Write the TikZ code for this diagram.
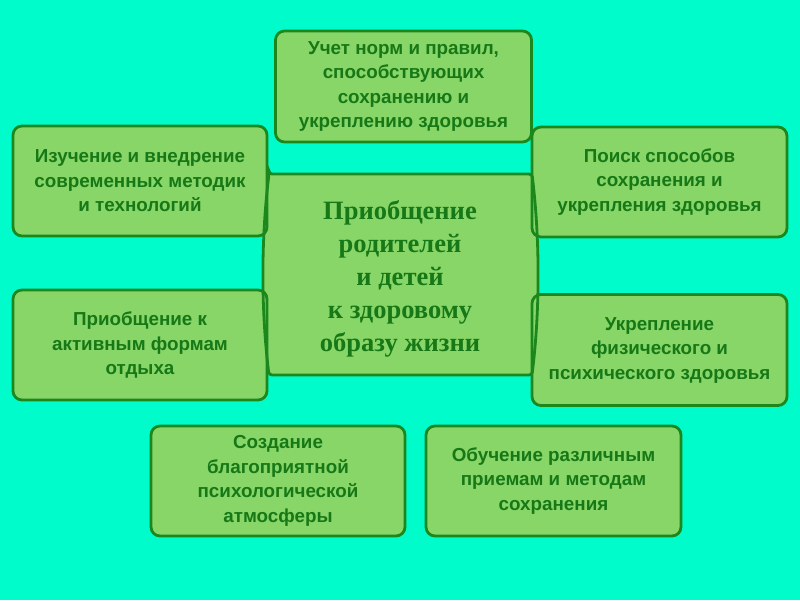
\documentclass[tikz,border=0pt]{standalone}
\usepackage{fontspec}
\setmainfont{Liberation Sans}[BoldFont={Liberation Sans Bold}]
\newfontfamily\serifcenter{Liberation Serif}[BoldFont={Liberation Serif Bold}]
\definecolor{bgaqua}{HTML}{00FCCB}
\definecolor{boxfill}{HTML}{88D668}
\definecolor{boxline}{HTML}{1C871C}
\definecolor{boxtext}{HTML}{167816}
\begin{document}
\begin{tikzpicture}[x=1pt,y=-1pt,
  infobox/.style={draw=boxline, fill=boxfill, line width=2.8pt, rounded corners=9pt,
    inner sep=0pt, minimum width=254pt, minimum height=110pt, align=center,
    text=boxtext, font=\bfseries\fontsize{18.8}{24.5}\selectfont},
  centerline/.style={draw=boxline, line width=2.8pt, rounded corners=3pt},
  centerfill/.style={fill=boxfill}]
\fill[bgaqua] (0,0) rectangle (800,600);
\useasboundingbox (0,0) rectangle (800,600);
% center shape fill
\path[centerfill] (269,174) -- (532,174) .. controls (540,240) and (540,310) .. (532,375)
  -- (269,375) .. controls (261,310) and (261,240) .. (269,174) -- cycle;
\node[infobox, minimum width=256pt, minimum height=111pt] (norms) at (403.5,86.5)
  {Учет норм и правил,\\способствующих\\сохранению и\\укреплению здоровья};
\node[infobox] (study) at (140,181)
  {Изучение и внедрение\\современных методик\\и технологий};
\node[infobox, minimum width=255pt] (search) at (659.5,182)
  {Поиск способов\\сохранения и\\укрепления здоровья};
\node[infobox] (rest) at (140,345)
  {Приобщение к\\активным формам\\отдыха};
\node[infobox, minimum width=255pt, minimum height=111pt] (health) at (659.5,350)
  {Укрепление\\физического и\\психического здоровья};
\node[infobox] (atmos) at (278,481)
  {Создание\\благоприятной\\психологической\\атмосферы};
\node[infobox, minimum width=255pt] (teach) at (553.5,481)
  {Обучение различным\\приемам и методам\\сохранения};
% center shape border
\path[centerline] (269,174) -- (532,174) .. controls (540,240) and (540,310) .. (532,375)
  -- (269,375) .. controls (261,310) and (261,240) .. (269,174) -- cycle;
\node[align=center, text=boxtext, font=\serifcenter\bfseries\fontsize{26.5}{33}\selectfont]
  (core) at (400,279) {Приобщение\\родителей\\и детей\\к здоровому\\образу жизни};
\end{tikzpicture}
\end{document}
